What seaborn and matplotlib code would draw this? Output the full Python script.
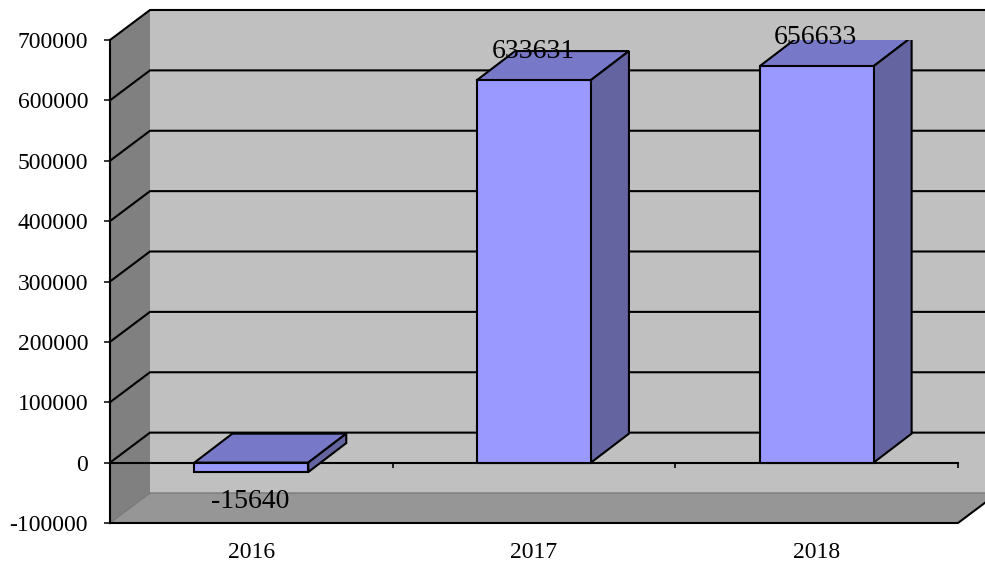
import matplotlib
matplotlib.use("Agg")
import matplotlib.pyplot as plt
import seaborn as sns
import numpy as np
from matplotlib.patches import Polygon

# ---- data ----
categories = ["2016", "2017", "2018"]
values = [-15640, 633631, 656633]
y_ticks = [-100000, 0, 100000, 200000, 300000, 400000, 500000, 600000, 700000]

plt.rcParams["font.family"] = ["Liberation Serif", "DejaVu Serif"]

W, H = 985, 562
fig = plt.figure(figsize=(W / 100, H / 100), dpi=100)
fig.patch.set_facecolor("white")

# front plane of the 3D box in pixels
px_l, px_r, px_b, px_t = 110, 958, 523, 40
ax = fig.add_axes([px_l / W, (H - px_b) / H, (px_r - px_l) / W, (px_b - px_t) / H])
ax.set_facecolor("none")

ymin, ymax = y_ticks[0], y_ticks[-1]
xmin, xmax = -0.5, len(categories) - 0.5
xpp = (xmax - xmin) / (px_r - px_l)          # data units per pixel (x)
ypp = (ymax - ymin) / (px_b - px_t)          # data units per pixel (y)

# depth offsets
dx, dy = 40 * xpp, 30 * ypp          # walls
bdx, bdy = 38 * xpp, 29 * ypp        # bars
xfar = xmax + dx + 1.0

lw = 1.5
# back wall
ax.add_patch(Polygon([(xmin + dx, ymin + dy), (xfar, ymin + dy), (xfar, ymax + dy), (xmin + dx, ymax + dy)],
                     closed=True, facecolor="#C0C0C0", edgecolor="none", clip_on=False, zorder=0))
# left wall
ax.add_patch(Polygon([(xmin, ymin), (xmin, ymax), (xmin + dx, ymax + dy), (xmin + dx, ymin + dy)],
                     closed=True, facecolor="#808080", edgecolor="none", clip_on=False, zorder=0))
# floor
ax.add_patch(Polygon([(xmin, ymin), (xmax, ymin), (xmax + dx, ymin + dy), (xmin + dx, ymin + dy)],
                     closed=True, facecolor="#969696", edgecolor="none", clip_on=False, zorder=0.5))
# floor back edge (gray)
ax.plot([xmin, xmin + dx, xfar], [ymin, ymin + dy, ymin + dy], color="#7a7a7a", lw=1.0,
        clip_on=False, zorder=0.6)
# floor front / right edges
ax.plot([xmin, xmax, xmax + dx], [ymin, ymin, ymin + dy], color="black", lw=lw,
        clip_on=False, zorder=1)

# gridlines on walls
for v in y_ticks[1:]:
    ax.plot([xmin, xmin + dx, xfar], [v, v + dy, v + dy], color="black", lw=lw,
            clip_on=False, zorder=1, solid_joinstyle="miter")

# front zero line with category separators
ax.plot([xmin, xmax], [0, 0], color="black", lw=lw, clip_on=False, zorder=2)
seps = np.arange(len(categories)) + 0.5
ax.vlines(seps, -5 * ypp, 0, color="black", lw=1.2, clip_on=False, zorder=2)

# bars (front faces)
sns.barplot(x=categories, y=values, color="#9999FF", saturation=1, width=0.403,
            edgecolor="black", linewidth=lw, errorbar=None, ax=ax, zorder=5)

top_c, side_c = "#7878C8", "#6464A0"
for p, v in zip(ax.containers[0].patches, values):
    x0 = p.get_x()
    x1 = x0 + p.get_width()
    y0 = p.get_y()
    y1 = y0 + p.get_height()
    lo, hi = min(y0, y1), max(y0, y1)
    ax.add_patch(Polygon([(x0, hi), (x1, hi), (x1 + bdx, hi + bdy), (x0 + bdx, hi + bdy)],
                         closed=True, facecolor=top_c, edgecolor="black", lw=lw, zorder=4,
                         joinstyle="miter"))
    ax.add_patch(Polygon([(x1, lo), (x1, hi), (x1 + bdx, hi + bdy), (x1 + bdx, lo + bdy)],
                         closed=True, facecolor=side_c, edgecolor="black", lw=lw, zorder=4,
                         joinstyle="miter"))
    xc = (x0 + x1) / 2 - 1 * xpp
    if v >= 0:
        ax.text(xc, hi + bdy, f"{v}", ha="center", va="center", fontsize=20, zorder=6)
    else:
        ax.text(xc, lo - bdy, f"{v}", ha="center", va="center", fontsize=20, zorder=6)

ax.set_xlim(xmin, xmax)
ax.set_ylim(ymin, ymax)
ax.set_xlabel("")
ax.set_ylabel("")

for s in ["top", "right", "bottom"]:
    ax.spines[s].set_visible(False)
ax.spines["left"].set_color("black")
ax.spines["left"].set_linewidth(lw)
ax.spines["left"].set_zorder(3)

ax.set_yticks(y_ticks)
ax.set_yticklabels([str(t) for t in y_ticks])
ax.tick_params(axis="y", direction="out", length=4.3, width=1.1, pad=11.5,
               labelsize=17, colors="black")
ax.set_xticks(range(len(categories)))
ax.set_xticklabels(categories)
ax.tick_params(axis="x", length=0, pad=13.5, labelsize=17, colors="black")

fig.savefig("out.png", dpi=100, facecolor="white")
